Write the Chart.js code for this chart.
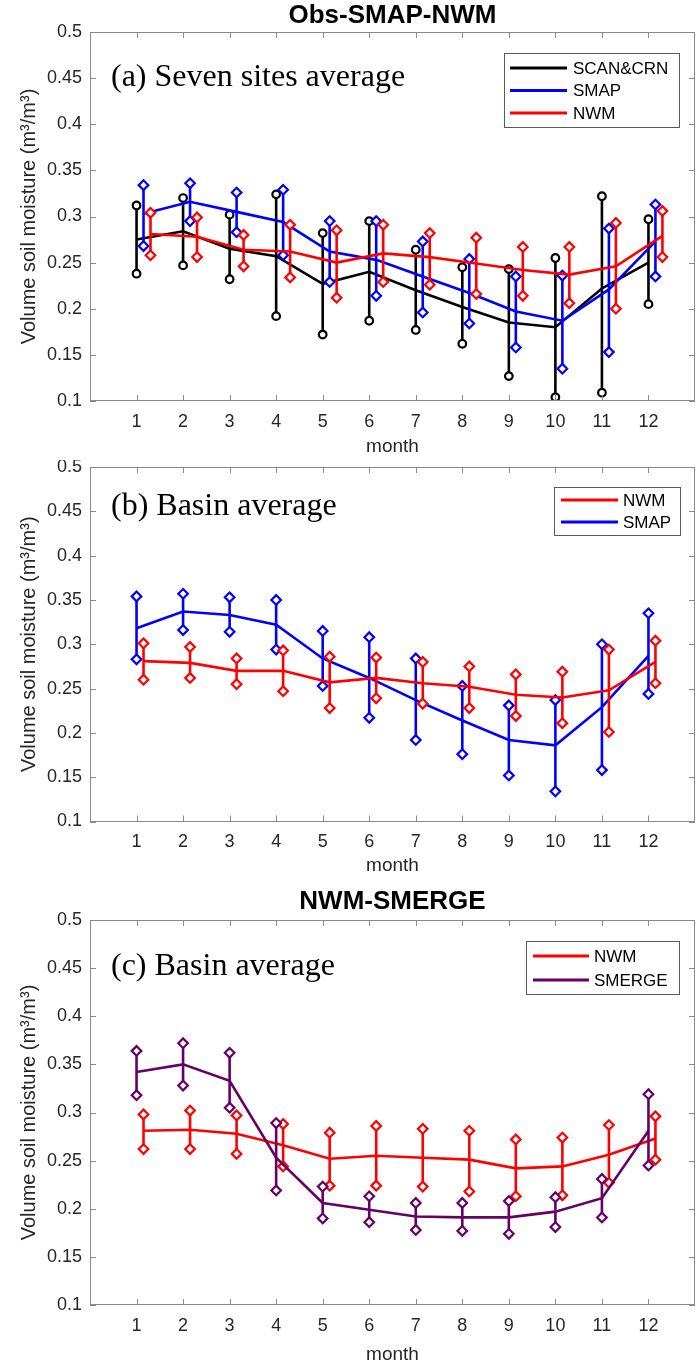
<!DOCTYPE html>
<html>
<head>
<meta charset="utf-8">
<script src="https://cdn.jsdelivr.net/npm/chart.js@4.4.1/dist/chart.umd.min.js"></script>
<style>
  html, body { margin: 0; padding: 0; background: #fff; }
  body { width: 697px; height: 1369px; position: relative; overflow: hidden; }
  canvas { position: absolute; left: 0; }
</style>
</head>
<body>
<canvas id="c1" width="697" height="460" style="top:0px"></canvas>
<canvas id="c2" width="697" height="420" style="top:460px"></canvas>
<canvas id="c3" width="697" height="489" style="top:880px"></canvas>
<script>
// months on the x axis
const months = [1, 2, 3, 4, 5, 6, 7, 8, 9, 10, 11, 12];
const xTickLabels = ['1', '2', '3', '4', '5', '6', '7', '8', '9', '10', '11', '12'];
const yTicks = [0.1, 0.15, 0.2, 0.25, 0.3, 0.35, 0.4, 0.45, 0.5];
const yTickLabels = ['0.1', '0.15', '0.2', '0.25', '0.3', '0.35', '0.4', '0.45', '0.5'];

// (a) seven sites average
const obsMeanA  = [0.275, 0.284, 0.265, 0.257, 0.227, 0.240, 0.220, 0.202, 0.185, 0.180, 0.222, 0.250];
const obsLowA   = [0.238, 0.247, 0.232, 0.192, 0.172, 0.187, 0.177, 0.162, 0.127, 0.104, 0.109, 0.205];
const obsHighA  = [0.312, 0.320, 0.302, 0.324, 0.282, 0.295, 0.264, 0.245, 0.243, 0.255, 0.322, 0.297];
const smapMeanA = [0.303, 0.316, 0.305, 0.294, 0.262, 0.253, 0.235, 0.217, 0.197, 0.187, 0.221, 0.273];
const smapLowA  = [0.268, 0.295, 0.283, 0.258, 0.229, 0.214, 0.196, 0.184, 0.158, 0.135, 0.153, 0.235];
const smapHighA = [0.334, 0.336, 0.326, 0.329, 0.295, 0.295, 0.273, 0.254, 0.235, 0.236, 0.287, 0.313];
const nwmMeanA  = [0.281, 0.278, 0.264, 0.262, 0.250, 0.260, 0.256, 0.249, 0.242, 0.237, 0.246, 0.279];
const nwmLowA   = [0.258, 0.256, 0.246, 0.234, 0.212, 0.229, 0.226, 0.216, 0.214, 0.206, 0.200, 0.256];
const nwmHighA  = [0.304, 0.299, 0.280, 0.291, 0.285, 0.291, 0.282, 0.277, 0.267, 0.267, 0.293, 0.306];

// (b) basin average, NWM vs SMAP
const nwmMeanB  = [0.281, 0.279, 0.270, 0.270, 0.257, 0.262, 0.256, 0.252, 0.243, 0.240, 0.248, 0.280];
const nwmLowB   = [0.260, 0.262, 0.255, 0.247, 0.228, 0.239, 0.233, 0.228, 0.219, 0.211, 0.201, 0.256];
const nwmHighB  = [0.301, 0.297, 0.284, 0.293, 0.286, 0.285, 0.280, 0.275, 0.266, 0.269, 0.294, 0.304];
const smapMeanB = [0.318, 0.337, 0.333, 0.322, 0.284, 0.262, 0.237, 0.214, 0.192, 0.186, 0.229, 0.287];
const smapLowB  = [0.283, 0.316, 0.314, 0.294, 0.253, 0.217, 0.192, 0.176, 0.152, 0.134, 0.158, 0.244];
const smapHighB = [0.354, 0.357, 0.353, 0.350, 0.315, 0.308, 0.284, 0.253, 0.231, 0.237, 0.300, 0.335];

// (c) basin average, NWM vs SMERGE
const nwmMeanC    = [0.281, 0.282, 0.278, 0.266, 0.252, 0.255, 0.253, 0.251, 0.242, 0.244, 0.256, 0.273];
const nwmLowC     = [0.262, 0.262, 0.257, 0.244, 0.224, 0.224, 0.223, 0.218, 0.213, 0.214, 0.227, 0.251];
const nwmHighC    = [0.298, 0.302, 0.297, 0.288, 0.279, 0.286, 0.283, 0.281, 0.272, 0.274, 0.287, 0.296];
const smergeMeanC = [0.342, 0.350, 0.333, 0.253, 0.206, 0.199, 0.192, 0.191, 0.191, 0.197, 0.211, 0.281];
const smergeLowC  = [0.318, 0.328, 0.305, 0.219, 0.190, 0.186, 0.178, 0.177, 0.174, 0.181, 0.191, 0.245];
const smergeHighC = [0.364, 0.372, 0.362, 0.289, 0.223, 0.213, 0.206, 0.206, 0.208, 0.212, 0.231, 0.319];

const SANS = "'Liberation Sans', Arial, sans-serif";
const SERIF = "'Liberation Serif', 'Times New Roman', serif";

const points = (dx, ys) => months.map((m, i) => ({ x: m + dx, y: ys[i] }));
const bars = (dx, lo, hi) => {
    const out = [];
    months.forEach((m, i) => {
        out.push({ x: m + dx, y: lo[i] }, { x: m + dx, y: hi[i] }, { x: m + dx, y: null });
    });
    return out;
};

// box frame with inward ticks on all four sides (matlab style)
const frameTicks = {
    id: 'frameTicks',
    afterDraw(chart) {
        const { ctx, chartArea: a, scales: { x, y } } = chart;
        const L = 6;
        ctx.save();
        ctx.strokeStyle = '#8a8a8a';
        ctx.lineWidth = 1;
        ctx.strokeRect(Math.round(a.left) + 0.5, Math.round(a.top) + 0.5,
            Math.round(a.right) - Math.round(a.left) - 1, Math.round(a.bottom) - Math.round(a.top) - 1);
        ctx.beginPath();
        x.ticks.forEach(t => {
            const px = Math.round(x.getPixelForValue(t.value)) + 0.5;
            ctx.moveTo(px, a.bottom); ctx.lineTo(px, a.bottom - L);
            ctx.moveTo(px, a.top); ctx.lineTo(px, a.top + L);
        });
        y.ticks.forEach(t => {
            const py = Math.round(y.getPixelForValue(t.value)) + 0.5;
            ctx.moveTo(a.left, py); ctx.lineTo(a.left + L, py);
            ctx.moveTo(a.right, py); ctx.lineTo(a.right - L, py);
        });
        ctx.stroke();
        ctx.restore();
    }
};

// panel note + boxed legend
const makeOverlay = (spec) => ({
    id: 'overlay',
    afterDraw(chart) {
        const ctx = chart.ctx;
        const t = spec.top;
        ctx.save();
        ctx.font = `32px ${SERIF}`;
        ctx.fillStyle = '#000';
        ctx.textAlign = 'left';
        ctx.textBaseline = 'alphabetic';
        ctx.fillText(spec.note, spec.noteX, spec.noteY - t);

        const lg = spec.legend;
        ctx.fillStyle = '#fff';
        ctx.fillRect(lg.x0, lg.y0 - t, lg.x1 - lg.x0, lg.y1 - lg.y0);
        ctx.strokeStyle = '#5a5a5a';
        ctx.lineWidth = 1;
        ctx.strokeRect(lg.x0 + 0.5, lg.y0 - t + 0.5, lg.x1 - lg.x0, lg.y1 - lg.y0);
        ctx.font = `17px ${SANS}`;
        ctx.textBaseline = 'middle';
        spec.series.forEach((s, i) => {
            const yy = lg.rows[i] - t;
            ctx.strokeStyle = s.color;
            ctx.lineWidth = 3;
            ctx.beginPath();
            ctx.moveTo(lg.lineX0, yy);
            ctx.lineTo(lg.lineX1, yy);
            ctx.stroke();
            ctx.fillStyle = '#000';
            ctx.fillText(s.label, lg.textX, yy + 1);
        });
        ctx.restore();
    }
});

const makePanel = (spec) => {
    const top = spec.top;
    const datasets = [];
    spec.series.forEach(s => {
        datasets.push({
            label: s.label,
            data: points(s.dx, s.mean),
            borderColor: s.color,
            borderWidth: 2.6,
            pointRadius: 0,
            tension: 0,
            fill: false,
            order: s.order
        });
        datasets.push({
            label: s.label + ' range',
            data: bars(s.dx, s.low, s.high),
            borderColor: s.color,
            borderWidth: 2.6,
            spanGaps: false,
            pointStyle: s.marker,
            pointRadius: s.marker === 'circle' ? 3.8 : 4.8,
            pointBorderWidth: 2.2,
            pointBorderColor: s.color,
            pointBackgroundColor: '#fff',
            fill: false,
            order: s.order
        });
    });

    const titleLh = 26 * 1.2;
    const tPadTop = spec.title ? spec.titleY - top - titleLh / 2 : 0;
    const tPadBottom = spec.title ? spec.chartTop - top - titleLh - tPadTop : 0;
    const monthPad = top + spec.height - spec.monthY - 19 * 1.2 / 2;

    new Chart(document.getElementById(spec.id), {
        type: 'line',
        data: { datasets },
        options: {
            responsive: false,
            animation: false,
            devicePixelRatio: 1,
            layout: {
                autoPadding: false,
                padding: { left: 0, right: 2, top: spec.title ? 0 : spec.chartTop - top, bottom: 0 }
            },
            plugins: {
                legend: { display: false },
                tooltip: { enabled: false },
                title: {
                    display: !!spec.title,
                    text: spec.title || '',
                    fullSize: false,
                    color: '#000',
                    font: { family: SANS, size: 26, weight: 'bold', lineHeight: 1.2 },
                    padding: { top: tPadTop, bottom: tPadBottom }
                }
            },
            scales: {
                x: {
                    type: 'linear',
                    min: 0,
                    max: 13,
                    grid: { display: false, drawTicks: false },
                    border: { display: false },
                    afterBuildTicks: sc => { sc.ticks = months.map(m => ({ value: m })); },
                    afterFit: sc => {
                        sc.height = top + spec.height - spec.chartBottom;
                        sc.paddingLeft = 0;
                        sc.paddingRight = 0;
                    },
                    ticks: {
                        padding: 10,
                        maxRotation: 0,
                        color: '#262626',
                        font: { family: SANS, size: 18 },
                        callback: (v, i) => xTickLabels[i]
                    },
                    title: {
                        display: true,
                        text: 'month',
                        color: '#262626',
                        font: { family: SANS, size: 19 },
                        padding: { top: 0, bottom: monthPad }
                    }
                },
                y: {
                    min: 0.1,
                    max: 0.5,
                    grid: { display: false, drawTicks: false },
                    border: { display: false },
                    afterBuildTicks: sc => { sc.ticks = yTicks.map(v => ({ value: v })); },
                    afterFit: sc => {
                        sc.width = 90;
                        sc.paddingTop = 0;
                        sc.paddingBottom = 0;
                    },
                    ticks: {
                        padding: 8,
                        color: '#262626',
                        font: { family: SANS, size: 18 },
                        callback: (v, i) => yTickLabels[i]
                    },
                    title: {
                        display: true,
                        text: 'Volume soil moisture (m³/m³)',
                        color: '#262626',
                        font: { family: SANS, size: 20 },
                        padding: { top: 17, bottom: 0 }
                    }
                }
            }
        },
        plugins: [frameTicks, makeOverlay(spec)]
    });
};

makePanel({
    id: 'c1', top: 0, height: 460, chartTop: 32, chartBottom: 401, titleY: 15.7, monthY: 447,
    title: 'Obs-SMAP-NWM',
    note: '(a) Seven sites average', noteX: 111, noteY: 86,
    legend: { x0: 504, x1: 679, y0: 53, y1: 127, rows: [68, 90.5, 113], lineX0: 510, lineX1: 567, textX: 573 },
    series: [
        { label: 'SCAN&CRN', color: '#000000', marker: 'circle', dx: 0, order: 2, mean: obsMeanA, low: obsLowA, high: obsHighA },
        { label: 'SMAP', color: '#0000ff', marker: 'rectRot', dx: 0.15, order: 1, mean: smapMeanA, low: smapLowA, high: smapHighA },
        { label: 'NWM', color: '#ff0000', marker: 'rectRot', dx: 0.3, order: 0, mean: nwmMeanA, low: nwmLowA, high: nwmHighA }
    ]
});

makePanel({
    id: 'c2', top: 460, height: 420, chartTop: 467, chartBottom: 821.5, monthY: 866,
    title: null,
    note: '(b) Basin average', noteX: 111, noteY: 515,
    legend: { x0: 554, x1: 680, y0: 487, y1: 535, rows: [500, 522], lineX0: 561, lineX1: 618, textX: 623 },
    series: [
        { label: 'NWM', color: '#ff0000', marker: 'rectRot', dx: 0.15, order: 0, mean: nwmMeanB, low: nwmLowB, high: nwmHighB },
        { label: 'SMAP', color: '#0000ff', marker: 'rectRot', dx: 0, order: 1, mean: smapMeanB, low: smapLowB, high: smapHighB }
    ]
});

makePanel({
    id: 'c3', top: 880, height: 489, chartTop: 920, chartBottom: 1305, titleY: 901.7, monthY: 1355,
    title: 'NWM-SMERGE',
    note: '(c) Basin average', noteX: 111, noteY: 975,
    legend: { x0: 526, x1: 679, y0: 941, y1: 994, rows: [956, 980], lineX0: 533, lineX1: 589, textX: 594 },
    series: [
        { label: 'NWM', color: '#ff0000', marker: 'rectRot', dx: 0.15, order: 1, mean: nwmMeanC, low: nwmLowC, high: nwmHighC },
        { label: 'SMERGE', color: '#660066', marker: 'rectRot', dx: 0, order: 0, mean: smergeMeanC, low: smergeLowC, high: smergeHighC }
    ]
});
</script>
</body>
</html>
